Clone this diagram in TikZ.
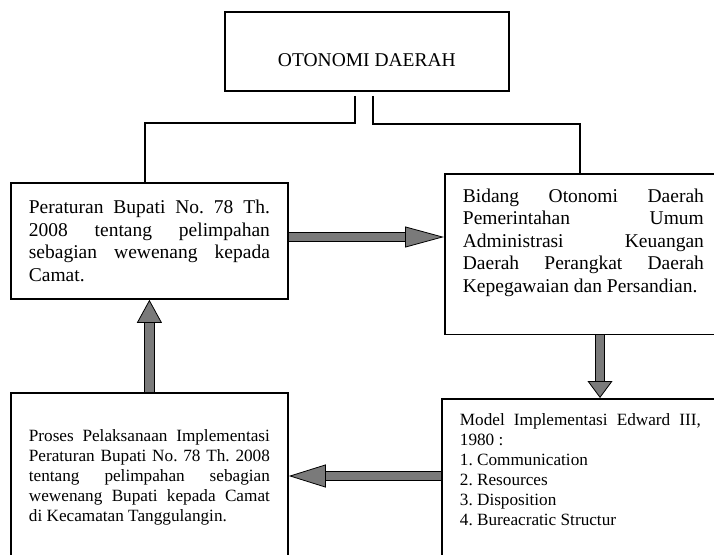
\documentclass[tikz,border=0pt]{standalone}
\usepackage{fontspec}
\setmainfont{Liberation Serif}
\usetikzlibrary{arrows.meta}
\definecolor{arrowgray}{HTML}{7A7A7A}
\frenchspacing
\hyphenpenalty=10000
\tolerance=10000
\tikzset{
    box/.style={draw, line width=1.8pt, anchor=north west, inner xsep=18pt},
    textbox/.style={box, text width=241pt, align=justify},
    bigfont/.style={font=\fontsize{19.5}{22.5}\selectfont},
    smallfont/.style={font=\fontsize{17.2}{20}\selectfont},
    link/.style={line width=1.6pt},
    fatarrow/.style 2 args={draw=black, line width=0.8pt, double=arrowgray, double distance=8.6pt,
        -{Triangle[length=#1pt, width=#2pt, fill=arrowgray]}}
}

\begin{document}
\begin{tikzpicture}[x=1pt, y=-1pt]
    \useasboundingbox (0,0) rectangle (714,554);
    \clip (0,0) rectangle (714,554);

    % boxes
    \node[box, bigfont, minimum width=284pt, minimum height=79pt, text height=31pt, text depth=0pt] (otonomi) at (224,11) {OTONOMI DAERAH};
    \node[textbox, bigfont, minimum height=116pt] (peraturan) at (10,182) {Peraturan Bupati No. 78 Th.\linebreak 2008 tentang pelimpahan\linebreak sebagian wewenang kepada\linebreak Camat.};
    \node[textbox, bigfont, inner ysep=15pt, text depth=117pt] (bidang) at (444,173) {Bidang Otonomi Daerah\linebreak Pemerintahan Umum\linebreak Administrasi Keuangan\linebreak Daerah Perangkat Daerah\linebreak Kepegawaian dan Persandian.};
    \node[textbox, smallfont, minimum height=168pt] (proses) at (10,392) {Proses Pelaksanaan Implementasi\linebreak Peraturan Bupati No. 78 Th. 2008\linebreak tentang pelimpahan sebagian\linebreak wewenang Bupati kepada Camat\linebreak di Kecamatan Tanggulangin.};
    \node[textbox, smallfont, inner ysep=15pt, text depth=150pt] (model) at (441,398) {Model Implementasi Edward III,\linebreak 1980 :\\ 1. Communication\\ 2. Resources\\ 3. Disposition\\ 4. Bureacratic Structur};

    % lines from the top box
    \draw[link] ([shift={(-12,4)}]otonomi.south) -- ++(0,27) -| ([xshift=-4.5pt]peraturan.north);
    \draw[link] ([shift={(6,4)}]otonomi.south) -- ++(0,28) -| ([xshift=136pt]bidang.north west);

    % big arrows
    \coordinate (r1) at ([yshift=-55pt]peraturan.north east);
    \draw[fatarrow={39}{21}] (r1) -- (r1 -| bidang.west);
    \coordinate (d1) at ([xshift=156pt]bidang.south west);
    \draw[fatarrow={17}{25}] (d1) -- (d1 |- model.north);
    \coordinate (l1) at ([yshift=-78pt]model.north west);
    \draw[fatarrow={37}{23}] (l1) -- (l1 -| proses.east);
    \draw[fatarrow={23}{25}] (proses.north) -- (proses.north |- peraturan.south);
\end{tikzpicture}
\end{document}
